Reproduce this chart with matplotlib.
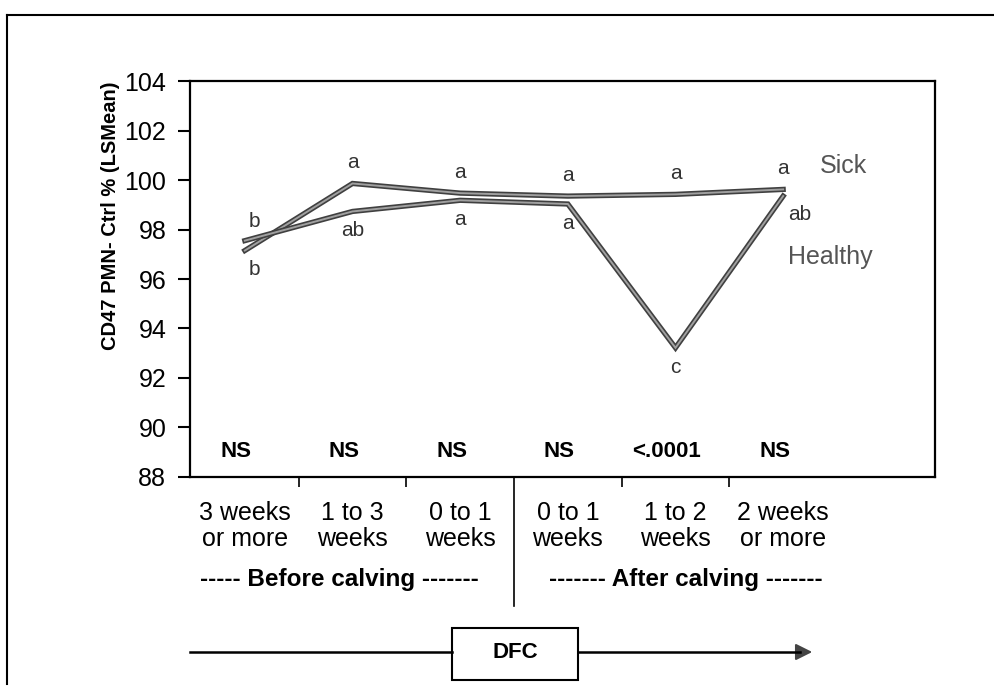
import matplotlib
matplotlib.use("Agg")
import matplotlib.pyplot as plt
import matplotlib.patheffects as pe
from matplotlib.lines import Line2D
from matplotlib.patches import Rectangle
from matplotlib.transforms import blended_transform_factory

plt.rcParams['font.family'] = ['Liberation Sans', 'DejaVu Sans']

periods = ["3 weeks\nor more", "1 to 3\nweeks", "0 to 1\nweeks",
           "0 to 1\nweeks", "1 to 2\nweeks", "2 weeks\nor more"]
sick = [97.15, 99.86, 99.47, 99.35, 99.42, 99.62]
healthy = [97.55, 98.73, 99.18, 99.03, 93.22, 99.35]
sick_letters = ["b", "a", "a", "a", "a", "a"]
healthy_letters = ["b", "ab", "a", "a", "c", "ab"]
pvalues = ["NS", "NS", "NS", "NS", "<.0001", "NS"]

x = list(range(len(periods)))

fig = plt.figure(figsize=(9.94, 6.93), dpi=100)
ax = fig.add_axes([0.1911, 0.3117, 0.7495, 0.5714])

stroke = [pe.Stroke(linewidth=3.8, foreground="#404040"), pe.Normal()]
ax.plot(x, sick, color="#a0a0a0", lw=1.4, path_effects=stroke, solid_joinstyle="miter")
ax.plot(x, healthy, color="#a0a0a0", lw=1.4, path_effects=stroke, solid_joinstyle="miter")

ax.set_xlim(-0.51, 6.41)
ax.set_ylim(88, 104)
ax.set_yticks(range(88, 105, 2))
ax.tick_params(axis="y", direction="out", length=9, width=1.5, pad=8, labelsize=18)
for s in ax.spines.values():
    s.set_linewidth(1.6)

ax.set_xticks(x)
ax.set_xticklabels(periods, fontsize=18, linespacing=1.1)
ax.tick_params(axis="x", length=0, pad=17)
ax.set_xticks([0.5, 1.5, 3.5, 4.5], minor=True)
ax.tick_params(axis="x", which="minor", direction="out", length=7, width=1.2)

ax.set_ylabel("CD47 PMN- Ctrl % (LSMean)", fontsize=14.5, fontweight="bold")
ax.yaxis.set_label_coords(-0.094, 0.66)

# significance letters
lc = "#333333"
for i in x:
    if i == 0:
        ax.annotate(sick_letters[i], (i, sick[i]), xytext=(7, -14), textcoords="offset points",
                    ha="center", va="center", fontsize=15, color=lc)
    else:
        ax.annotate(sick_letters[i], (i, sick[i]), xytext=(0, 15), textcoords="offset points",
                    ha="center", va="center", fontsize=15, color=lc)
    if i == 0:
        off = (7, 14)
    elif i == 5:
        off = (12, -13)
    else:
        off = (0, -14)
    ax.annotate(healthy_letters[i], (i, healthy[i]), xytext=off, textcoords="offset points",
                ha="center", va="center", fontsize=15, color=lc)

ax.text(5.56, 100.57, "Sick", fontsize=18, color="#555555", ha="center", va="center")
ax.text(5.44, 96.9, "Healthy", fontsize=18, color="#555555", ha="center", va="center")

for i, p in enumerate(pvalues):
    ax.text(i - 0.08, 89.05, p, fontsize=16, fontweight="bold", ha="center", va="center")

# before / after calving divider
tr = blended_transform_factory(ax.transData, ax.transAxes)
ax.add_line(Line2D([2.5, 2.5], [0, -0.325], transform=tr, color="black", lw=1.2, clip_on=False))
ax.text(0.88, -0.26, "----- Before calving -------", transform=tr, fontsize=17.5,
        fontweight="bold", ha="center", va="center")
ax.text(4.1, -0.26, "------- After calving -------", transform=tr, fontsize=17.5,
        fontweight="bold", ha="center", va="center")

# DFC timeline
y0 = 1 - 652 / 693
fig.add_artist(Line2D([190 / 994, 452 / 994], [y0, y0], color="black", lw=1.8))
fig.add_artist(Rectangle((452 / 994, 1 - 680 / 693), 126 / 994, 52 / 693,
                         fill=False, edgecolor="black", lw=1.5))
fig.text(515 / 994, y0, "DFC", fontsize=16, fontweight="bold", ha="center", va="center")
fig.add_artist(Line2D([578 / 994, 800 / 994], [y0, y0], color="black", lw=1.8))
ax.annotate("", xy=(815 / 994, y0), xytext=(795 / 994, y0), xycoords="figure fraction",
            arrowprops=dict(arrowstyle="-|>,head_length=1.0,head_width=0.5",
                            color="#444444", lw=1.5))

# outer frame of the scanned panel
fig.add_artist(Line2D([7 / 994, 7 / 994], [1 - 15 / 693, 1 - 684 / 693], color="black", lw=1.5))
fig.add_artist(Line2D([7 / 994, 1.0], [1 - 15 / 693, 1 - 15 / 693], color="black", lw=1.5))

fig.savefig("out.png", dpi=100)
